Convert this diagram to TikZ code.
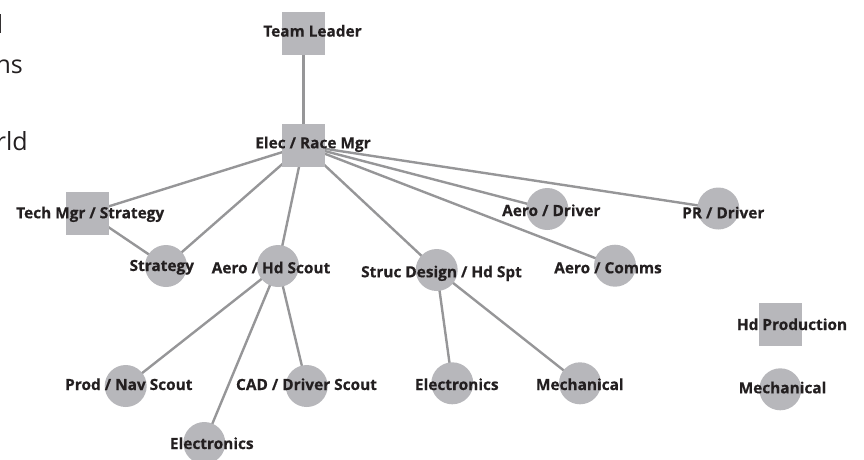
\documentclass[tikz,border=0pt]{standalone}
\usepackage{fontspec}
\setmainfont{Open Sans}[BoldFeatures={FakeBold=0.5}]
\newfontfamily\sidefont{Open Sans}
\usetikzlibrary{backgrounds}
\definecolor{nodegray}{RGB}{183,183,187}
\definecolor{edgegray}{RGB}{150,150,152}
\definecolor{textdark}{RGB}{35,31,32}
\tikzset{
  sq/.style={rectangle, fill=nodegray, minimum size=43pt, inner sep=0pt},
  ci/.style={circle, fill=nodegray, minimum size=42pt, inner sep=0pt},
  lbl/.style={anchor=base, inner sep=0pt, text=textdark, font=\fontsize{15.4}{17}\selectfont\bfseries},
  side/.style={anchor=base west, inner sep=0pt, text=textdark, font=\sidefont\fontsize{25}{28}\selectfont},
  link/.style={draw=edgegray, line width=2.4pt}
}
\begin{document}
\begin{tikzpicture}[x=1pt,y=-1pt]
\useasboundingbox (0,0) rectangle (864,459);
\clip (0,0) rectangle (864,459);
% side text (clipped at the left edge, as in the reference)
\node[side, anchor=base east] (s1) at (3.5,33) {d};
\node[side, anchor=base east] (s2) at (23,73) {ns};
\node[side, anchor=base east] (s3) at (28,150) {rld};
% shapes
\node[sq] (tl)  at (303.5,33) {};
\node[sq] (erm) at (303.5,145.5) {};
\node[sq] (tms) at (87.5,213) {};
\node[ci] (str) at (166,266) {};
\node[ci] (ahs) at (278,266) {};
\node[ci] (sdh) at (436.7,270) {};
\node[ci] (adr) at (547.3,209) {};
\node[ci] (prd) at (718.3,208.5) {};
\node[ci] (aco) at (615,265.7) {};
\node[ci] (pns) at (125.7,386) {};
\node[ci] (cds) at (306.7,386) {};
\node[ci] (el1) at (204.3,443) {};
\node[ci] (el2) at (452.3,383.3) {};
\node[ci] (me1) at (580,383.3) {};
\node[sq] (hdp) at (780.3,324.5) {};
\node[ci] (me2) at (780.3,389.3) {};
% edges
\begin{scope}[on background layer]
\draw[link] (tl.center) -- (erm.center);
\draw[link] (erm.center) -- (tms.center);
\draw[link] (erm.center) -- (str.center);
\draw[link] (erm.center) -- (ahs.center);
\draw[link] (erm.center) -- (sdh.center);
\draw[link] (erm.center) -- (aco.center);
\draw[link] (erm.center) -- (adr.center);
\draw[link] (erm.center) -- (prd.center);
\draw[link] (tms.center) -- (str.center);
\draw[link] (ahs.center) -- (pns.center);
\draw[link] (ahs.center) -- (el1.center);
\draw[link] (ahs.center) -- (cds.center);
\draw[link] (sdh.center) -- (el2.center);
\draw[link] (sdh.center) -- (me1.center);
\end{scope}
% labels
\node[lbl] (ltl)  at (312.5,36.6) {Team Leader};
\node[lbl] (lerm) at (313,148.3) {Elec / Race Mgr};
\node[lbl] (ltms) at (90.2,218.3) {Tech Mgr / Strategy};
\node[lbl] (lstr) at (161.8,271) {Strategy};
\node[lbl] (lahs) at (271,273.3) {Aero / Hd Scout};
\node[lbl] (ladr) at (551.3,216) {Aero / Driver};
\node[lbl] (lprd) at (723.3,218.3) {PR / Driver};
\node[lbl] (lsdh) at (441.5,277.3) {Struc Design / Hd Spt};
\node[lbl] (laco) at (608,273.3) {Aero / Comms};
\node[lbl] (lpns) at (128.8,390) {Prod / Nav Scout};
\node[lbl] (lcds) at (306.5,390) {CAD / Driver Scout};
\node[lbl] (lel1) at (211.8,449) {Electronics};
\node[lbl] (lel2) at (456.8,390) {Electronics};
\node[lbl] (lme1) at (579.8,390) {Mechanical};
\node[lbl] (lhdp) at (792,330) {Hd Production};
\node[lbl] (lme2) at (782.5,393.3) {Mechanical};
\end{tikzpicture}
\end{document}
